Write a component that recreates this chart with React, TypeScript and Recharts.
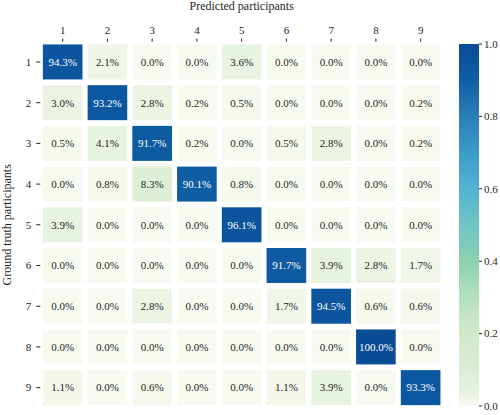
import React from 'react';
import { ScatterChart, Scatter, XAxis, YAxis, BarChart, Bar } from 'recharts';

// ---------- data ----------
const predictedLabels = [1, 2, 3, 4, 5, 6, 7, 8, 9];
const truthLabels = [1, 2, 3, 4, 5, 6, 7, 8, 9];

const row1 = [94.3, 2.1, 0.0, 0.0, 3.6, 0.0, 0.0, 0.0, 0.0];
const row2 = [3.0, 93.2, 2.8, 0.2, 0.5, 0.0, 0.0, 0.0, 0.2];
const row3 = [0.5, 4.1, 91.7, 0.2, 0.0, 0.5, 2.8, 0.0, 0.2];
const row4 = [0.0, 0.8, 8.3, 90.1, 0.8, 0.0, 0.0, 0.0, 0.0];
const row5 = [3.9, 0.0, 0.0, 0.0, 96.1, 0.0, 0.0, 0.0, 0.0];
const row6 = [0.0, 0.0, 0.0, 0.0, 0.0, 91.7, 3.9, 2.8, 1.7];
const row7 = [0.0, 0.0, 2.8, 0.0, 0.0, 1.7, 94.5, 0.6, 0.6];
const row8 = [0.0, 0.0, 0.0, 0.0, 0.0, 0.0, 0.0, 100.0, 0.0];
const row9 = [1.1, 0.0, 0.6, 0.0, 0.0, 1.1, 3.9, 0.0, 93.3];

const colorbarTicks = [0, 0.2, 0.4, 0.6, 0.8, 1.0];

const colorStops: [number, string][] = [
  [0.0, '#f7faf0'],
  [0.04, '#e7f2df'],
  [0.1, '#dbecd4'],
  [0.2, '#d0eac9'],
  [0.3, '#b5e0bd'],
  [0.4, '#8dd1b0'],
  [0.5, '#70c5c4'],
  [0.6, '#52b4d2'],
  [0.7, '#3b9bc9'],
  [0.8, '#2b7fb9'],
  [0.9, '#0f5ea3'],
  [0.95, '#0b559e'],
  [1.0, '#0a4d94'],
];

// ---------- helpers ----------
const FONT = '"Liberation Serif", "Times New Roman", serif';
const TEXT = '#1e1e1e';

const hex = (c: string) => [1, 3, 5].map((i) => parseInt(c.slice(i, i + 2), 16));
function colorFor(v: number): string {
  const t = Math.max(0, Math.min(1, v));
  for (let i = 1; i < colorStops.length; i++) {
    const [t1, c1] = colorStops[i];
    const [t0, c0] = colorStops[i - 1];
    if (t <= t1) {
      const f = (t - t0) / (t1 - t0 || 1);
      const a = hex(c0);
      const b = hex(c1);
      const m = a.map((x, k) => Math.round(x + (b[k] - x) * f));
      return `rgb(${m[0]},${m[1]},${m[2]})`;
    }
  }
  return colorStops[colorStops.length - 1][1];
}

const rows = [row1, row2, row3, row4, row5, row6, row7, row8, row9];
const cells = rows.flatMap((r, i) =>
  r.map((p, j) => ({ x: predictedLabels[j], y: truthLabels[i], p }))
);

// ---------- layout ----------
const W = 500;
const H = 415;
const MARGIN = { top: 0, right: 57, bottom: 7, left: 0 };
const Y_AXIS_W = 40.3;
const X_AXIS_H = 41.6;
const plotW = W - MARGIN.left - MARGIN.right - Y_AXIS_W;
const plotH = H - MARGIN.top - MARGIN.bottom - X_AXIS_H;
const cellW = plotW / predictedLabels.length - 5.1;
const cellH = plotH / truthLabels.length - 5.7;

const textStyle = { fontFamily: FONT, fontSize: 11, fill: TEXT } as React.CSSProperties;

const CellShape = (props: any) => {
  const { cx, cy, payload } = props;
  const v = payload.p / 100;
  return (
    <g>
      <rect x={cx - cellW / 2} y={cy - cellH / 2} width={cellW} height={cellH} fill={colorFor(v)} />
      <text
        x={cx}
        y={cy}
        dy="0.35em"
        textAnchor="middle"
        style={{ ...textStyle, fill: v > 0.5 ? '#ffffff' : TEXT }}
      >
        {payload.p.toFixed(1)}%
      </text>
    </g>
  );
};

const TopTick = (props: any) => {
  const { x, y, payload } = props;
  return (
    <text x={x} y={y} textAnchor="middle" style={textStyle}>
      {payload.value}
    </text>
  );
};

const LeftTick = (props: any) => {
  const { x, y, payload } = props;
  return (
    <text x={x} y={y} dy="0.35em" textAnchor="end" style={textStyle}>
      {payload.value}
    </text>
  );
};

const RightTick = (props: any) => {
  const { x, y, payload } = props;
  return (
    <text x={x} y={y} dy="0.35em" textAnchor="start" style={textStyle}>
      {Number(payload.value).toFixed(1)}
    </text>
  );
};

export default function App() {
  return (
    <div
      style={{
        position: 'absolute',
        left: 0,
        top: 0,
        width: W,
        height: H,
        background: '#fff',
        fontFamily: FONT,
      }}
    >
      <div style={{ position: 'absolute', left: 0, top: 0 }}>
        <ScatterChart width={W} height={H} margin={MARGIN}>
          <XAxis
            type="number"
            dataKey="x"
            orientation="top"
            domain={[0.5, 9.5]}
            ticks={predictedLabels}
            height={X_AXIS_H}
            axisLine={false}
            tickSize={3}
            tickMargin={5}
            tickLine={{ stroke: TEXT }}
            tick={<TopTick />}
            interval={0}
            label={{
              value: 'Predicted participants',
              position: 'insideTop',
              offset: 1,
              style: { fontSize: 12, fontFamily: FONT, fill: TEXT },
            }}
          />
          <YAxis
            type="number"
            dataKey="y"
            reversed
            domain={[0.5, 9.5]}
            ticks={truthLabels}
            width={Y_AXIS_W}
            axisLine={false}
            tickSize={4}
            tickMargin={5}
            tickLine={{ stroke: TEXT }}
            tick={<LeftTick />}
            interval={0}
            label={{
              value: 'Ground truth participants',
              angle: -90,
              position: 'insideLeft',
              offset: 7,
              style: { fontSize: 12, fontFamily: FONT, fill: TEXT, textAnchor: 'middle' },
            }}
          />
          <Scatter data={cells} shape={CellShape} isAnimationActive={false} />
        </ScatterChart>
      </div>
      <div style={{ position: 'absolute', left: 455, top: 0 }}>
        <BarChart
          width={45}
          height={H}
          data={[{ name: 'cb', v: 1 }]}
          margin={{ top: 44, right: 0, bottom: 9, left: 4 }}
          barCategoryGap={0}
        >
          <defs>
            <linearGradient id="cbGrad" x1="0" y1="1" x2="0" y2="0">
              {colorStops.map(([t, c]) => (
                <stop key={t} offset={`${t * 100}%`} stopColor={c} />
              ))}
            </linearGradient>
          </defs>
          <XAxis dataKey="name" hide />
          <YAxis
            orientation="right"
            type="number"
            domain={[0, 1]}
            ticks={colorbarTicks}
            width={21}
            axisLine={false}
            tickSize={3}
            tickMargin={2}
            tickLine={{ stroke: TEXT }}
            tick={<RightTick />}
            interval={0}
          />
          <Bar dataKey="v" fill="url(#cbGrad)" isAnimationActive={false} />
        </BarChart>
      </div>
    </div>
  );
}
